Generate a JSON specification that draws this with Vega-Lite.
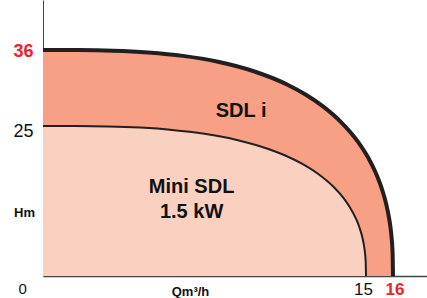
{
  "$schema": "https://vega.github.io/schema/vega-lite/v6.json",
  "width": 384,
  "height": 276,
  "autosize": {"type": "none"},
  "padding": {"left": 43, "top": 0, "right": 0, "bottom": 22},
  "background": "white",
  "config": {"view": {"stroke": null}, "font": "Liberation Sans"},
  "datasets": {
    "curves": [
      {"series": "SDL i", "q": 0, "h": 36.0},
      {"series": "SDL i", "q": 1.625, "h": 35.99},
      {"series": "SDL i", "q": 3.25, "h": 35.9},
      {"series": "SDL i", "q": 4.876, "h": 35.64},
      {"series": "SDL i", "q": 6.5, "h": 35.15},
      {"series": "SDL i", "q": 8.127, "h": 34.3},
      {"series": "SDL i", "q": 9.752, "h": 32.96},
      {"series": "SDL i", "q": 11.378, "h": 30.94},
      {"series": "SDL i", "q": 12.19, "h": 29.56},
      {"series": "SDL i", "q": 13.003, "h": 27.84},
      {"series": "SDL i", "q": 13.816, "h": 25.64},
      {"series": "SDL i", "q": 14.63, "h": 22.35},
      {"series": "SDL i", "q": 15.093, "h": 19.62},
      {"series": "SDL i", "q": 15.352, "h": 17.28},
      {"series": "SDL i", "q": 15.611, "h": 14.2},
      {"series": "SDL i", "q": 15.741, "h": 12.12},
      {"series": "SDL i", "q": 15.87, "h": 9.23},
      {"series": "SDL i", "q": 15.935, "h": 7.0},
      {"series": "SDL i", "q": 15.987, "h": 3.69},
      {"series": "SDL i", "q": 16, "h": 0},
      {"series": "Mini SDL", "q": 0, "h": 25.0},
      {"series": "Mini SDL", "q": 1.5, "h": 24.99},
      {"series": "Mini SDL", "q": 3.0, "h": 24.92},
      {"series": "Mini SDL", "q": 4.5, "h": 24.73},
      {"series": "Mini SDL", "q": 6.0, "h": 24.35},
      {"series": "Mini SDL", "q": 7.5, "h": 23.7},
      {"series": "Mini SDL", "q": 9.0, "h": 22.68},
      {"series": "Mini SDL", "q": 10.5, "h": 21.13},
      {"series": "Mini SDL", "q": 11.25, "h": 20.08},
      {"series": "Mini SDL", "q": 12.0, "h": 18.76},
      {"series": "Mini SDL", "q": 12.75, "h": 17.08},
      {"series": "Mini SDL", "q": 13.5, "h": 14.83},
      {"series": "Mini SDL", "q": 13.95, "h": 13.02},
      {"series": "Mini SDL", "q": 14.25, "h": 11.47},
      {"series": "Mini SDL", "q": 14.55, "h": 9.43},
      {"series": "Mini SDL", "q": 14.7, "h": 8.05},
      {"series": "Mini SDL", "q": 14.85, "h": 6.13},
      {"series": "Mini SDL", "q": 14.925, "h": 4.65},
      {"series": "Mini SDL", "q": 14.985, "h": 2.45},
      {"series": "Mini SDL", "q": 15, "h": 0}
    ],
    "labels": [
      {"text": "SDL i", "q": 9.2, "h": 27.2},
      {"text": "Mini SDL", "q": 6.9, "h": 14.8},
      {"text": "1.5 kW", "q": 6.9, "h": 10.6}
    ]
  },
  "encoding": {
    "x": {
      "field": "q", "type": "quantitative",
      "scale": {"domain": [0, 15, 16, 17.2], "range": [0, 323, 350, 384], "nice": false, "zero": false},
      "axis": {
        "title": "Qm³/h", "titleFont": "Liberation Sans", "titleFontSize": 13, "titleFontWeight": "bold", "titleColor": "#111",
        "titleX": 147, "titleY": 15, "titleAlign": "center", "titleBaseline": "middle", "titleAngle": 0,
        "values": [0, 15, 16], "ticks": false, "grid": false,
        "domainColor": "#444", "domainWidth": 1.5,
        "labelFont": "Liberation Sans", "labelPadding": 5, "labelBaseline": "top",
        "labelColor": {"condition": {"test": "datum.value == 16", "value": "#E8262A"}, "value": "#111"},
        "labelFontWeight": {"condition": {"test": "datum.value == 16", "value": "bold"}, "value": "normal"},
        "labelFontSize": {"condition": {"test": "datum.value == 0", "value": 15}, "value": 17},
        "labelOffset": {"condition": [{"test": "datum.value == 0", "value": -25}, {"test": "datum.value == 15", "value": -3}], "value": 1.5}
      }
    },
    "y": {
      "field": "h", "type": "quantitative",
      "scale": {"domain": [0, 25, 36, 43.2], "range": [276, 126, 50, 0], "nice": false, "zero": false},
      "axis": {
        "title": "Hm", "titleFont": "Liberation Sans", "titleFontSize": 13, "titleFontWeight": "bold", "titleColor": "#111",
        "titleX": -19, "titleY": 212, "titleAlign": "center", "titleBaseline": "middle", "titleAngle": 0,
        "values": [25, 36], "ticks": false, "grid": false,
        "domainColor": "#444", "domainWidth": 1,
        "labelFont": "Liberation Sans", "labelFontSize": 18, "labelPadding": 10,
        "labelColor": {"condition": {"test": "datum.value == 36", "value": "#E8262A"}, "value": "#111"},
        "labelFontWeight": {"condition": {"test": "datum.value == 36", "value": "bold"}, "value": "normal"},
        "labelOffset": {"condition": {"test": "datum.value == 25", "value": 5}, "value": 1}
      }
    }
  },
  "layer": [
    {
      "data": {"name": "curves"},
      "transform": [{"filter": "datum.series == 'SDL i'"}],
      "mark": {"type": "area", "color": "#F8A085", "interpolate": "monotone"}
    },
    {
      "data": {"name": "curves"},
      "transform": [{"filter": "datum.series == 'Mini SDL'"}],
      "mark": {"type": "area", "color": "#FAD0C0", "interpolate": "monotone"}
    },
    {
      "data": {"name": "curves"},
      "transform": [{"filter": "datum.series == 'Mini SDL'"}],
      "mark": {"type": "line", "color": "#231F20", "strokeWidth": 2, "interpolate": "monotone"}
    },
    {
      "data": {"name": "curves"},
      "transform": [{"filter": "datum.series == 'SDL i'"}],
      "mark": {"type": "line", "color": "#231F20", "strokeWidth": 4, "interpolate": "monotone"}
    },
    {
      "data": {"name": "labels"},
      "mark": {"type": "text", "font": "Liberation Sans", "fontSize": 20, "fontWeight": "bold", "color": "#111", "align": "center", "baseline": "middle"},
      "encoding": {"text": {"field": "text"}}
    }
  ]
}
